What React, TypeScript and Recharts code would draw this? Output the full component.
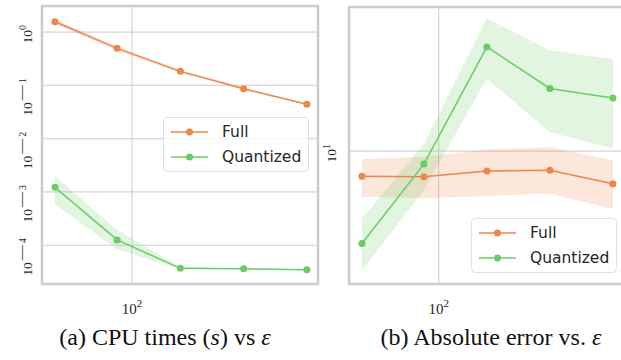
import React from 'react';
import {
  ComposedChart,
  Line,
  Area,
  XAxis,
  YAxis,
  CartesianGrid,
  ReferenceArea,
} from 'recharts';

// epsilon values (x, log scale)
const epsilons = [43, 85, 170, 340, 680];

// (a) CPU times
const cpuFull = [1.56, 0.494, 0.183, 0.0865, 0.044];
const cpuFullLo = [1.42, 0.45, 0.172, 0.082, 0.0425];
const cpuFullHi = [1.72, 0.54, 0.195, 0.091, 0.0458];
const cpuQuant = [1.22e-3, 1.26e-4, 3.69e-5, 3.63e-5, 3.47e-5];
const cpuQuantLo = [5.9e-4, 8.4e-5, 3.55e-5, 3.55e-5, 3.4e-5];
const cpuQuantHi = [2.0e-3, 1.93e-4, 3.85e-5, 3.72e-5, 3.55e-5];

// (b) absolute error
const errFull = [7.94, 7.89, 8.32, 8.39, 7.4];
const errFullLo = [6.56, 6.47, 6.61, 6.77, 5.86];
const errFullHi = [9.29, 9.49, 10.15, 10.35, 9.2];
const errQuant = [4.27, 8.87, 26.1, 17.8, 16.3];
const errQuantLo = [3.32, 6.98, 19.5, 11.9, 10.24];
const errQuantHi = [5.38, 10.7, 34.0, 25.3, 23.3];

const xTicks = [100];
const cpuTicks = [1e-4, 1e-3, 1e-2, 1e-1, 1];
const errTicks = [10];

const xDomain: [number, number] = [37.3, 768];
const cpuDomain: [number, number] = [1.875e-5, 3.08];
const errDomain: [number, number] = [2.94, 37.7];

const ORANGE = '#ee854a';
const GREEN = '#6acc64';
const SERIF = '"Liberation Serif", "DejaVu Serif", serif';
const SANS = '"DejaVu Sans", sans-serif';

const cpuData = epsilons.map((x, i) => ({
  x,
  full: cpuFull[i],
  fullBand: [cpuFullLo[i], cpuFullHi[i]],
  quant: cpuQuant[i],
  quantBand: [cpuQuantLo[i], cpuQuantHi[i]],
}));

const errData = epsilons.map((x, i) => ({
  x,
  full: errFull[i],
  fullBand: [errFullLo[i], errFullHi[i]],
  quant: errQuant[i],
  quantBand: [errQuantLo[i], errQuantHi[i]],
}));

// rotated 10^n label, its top end sits a little above the tick
const YTick = (props: any) => {
  const { y, payload, bx } = props;
  const exp = Math.round(Math.log10(payload.value));
  return (
    <text
      transform={`translate(${bx},${y - 7}) rotate(-90)`}
      textAnchor="end"
      fontFamily={SERIF}
      fontSize={13.5}
      fill="#262626"
    >
      10
      {exp < 0 ? (
        <>
          <tspan dy={-6} dx={2} fontSize={15}>
            {'\u2014'}
          </tspan>
          <tspan dx={2} fontSize={10}>
            {-exp}
          </tspan>
        </>
      ) : (
        <tspan dy={-6} fontSize={10}>
          {exp}
        </tspan>
      )}
    </text>
  );
};

const XTick = (props: any) => {
  const { x, payload } = props;
  const exp = Math.round(Math.log10(payload.value));
  return (
    <text x={x} y={314} textAnchor="middle" fontFamily={SERIF} fontSize={15} fill="#262626">
      10
      <tspan dy={-7} fontSize={11}>
        {exp}
      </tspan>
    </text>
  );
};

const LegendBox = ({ left, top }: { left: number; top: number }) => {
  const rows = [
    { name: 'Full', color: ORANGE },
    { name: 'Quantized', color: GREEN },
  ];
  return (
    <div
      style={{
        position: 'absolute',
        left,
        top,
        width: 146,
        height: 55,
        boxSizing: 'border-box',
        border: '1px solid #e2e2e2',
        borderRadius: 4,
        background: 'rgba(255,255,255,0.85)',
        fontFamily: SANS,
        fontSize: 15.5,
        color: '#262626',
      }}
    >
      {rows.map((r, i) => (
        <div
          key={r.name}
          style={{ position: 'absolute', left: 0, top: 4 + i * 25, height: 20, display: 'flex', alignItems: 'center' }}
        >
          <svg width={58} height={20} style={{ display: 'block' }}>
            <line x1={7} y1={10} x2={44} y2={10} stroke={r.color} strokeWidth={1.5} />
            <circle cx={25.5} cy={10} r={3.5} fill={r.color} />
          </svg>
          <span style={{ lineHeight: '20px' }}>{r.name}</span>
        </div>
      ))}
    </div>
  );
};

const Panel = ({ data, width, yWidth, marginTop, marginRight, yDomain, yTicks, tickX }: any) => (
  <ComposedChart
    width={width}
    height={320}
    data={data}
    margin={{ top: marginTop, right: marginRight, left: 0, bottom: 0 }}
  >
    <CartesianGrid stroke="#d4d4d4" strokeWidth={1.2} />
    <XAxis
      dataKey="x"
      type="number"
      scale="log"
      domain={xDomain}
      allowDataOverflow
      ticks={xTicks}
      height={36}
      axisLine={false}
      tickLine={false}
      tick={(p: any) => <XTick {...p} />}
    />
    <YAxis
      type="number"
      scale="log"
      domain={yDomain}
      allowDataOverflow
      ticks={yTicks}
      width={yWidth}
      axisLine={false}
      tickLine={false}
      tick={(p: any) => <YTick {...p} bx={tickX} />}
    />
    <Area
      type="linear"
      dataKey="fullBand"
      stroke="none"
      fill={ORANGE}
      fillOpacity={0.2}
      isAnimationActive={false}
      activeDot={false}
    />
    <Area
      type="linear"
      dataKey="quantBand"
      stroke="none"
      fill={GREEN}
      fillOpacity={0.2}
      isAnimationActive={false}
      activeDot={false}
    />
    <Line
      type="linear"
      dataKey="full"
      stroke={ORANGE}
      strokeWidth={1.5}
      dot={{ r: 3.5, fill: ORANGE, stroke: ORANGE, strokeWidth: 0 }}
      activeDot={false}
      isAnimationActive={false}
    />
    <Line
      type="linear"
      dataKey="quant"
      stroke={GREEN}
      strokeWidth={1.5}
      dot={{ r: 3.5, fill: GREEN, stroke: GREEN, strokeWidth: 0 }}
      activeDot={false}
      isAnimationActive={false}
    />
    <ReferenceArea
      x1={xDomain[0]}
      x2={xDomain[1]}
      y1={yDomain[0]}
      y2={yDomain[1]}
      fill="none"
      stroke="#cccccc"
      strokeWidth={2.5}
      ifOverflow="visible"
    />
  </ComposedChart>
);

const captionStyle: React.CSSProperties = {
  position: 'absolute',
  top: 324,
  textAlign: 'center',
  fontFamily: SERIF,
  fontSize: 24,
  color: '#111',
  whiteSpace: 'nowrap',
};

export default function App() {
  return (
    <div
      style={{
        position: 'absolute',
        left: 0,
        top: 0,
        width: 621,
        height: 360,
        overflow: 'hidden',
        background: '#fff',
      }}
    >
      <div style={{ position: 'absolute', left: 0, top: 0 }}>
        <Panel
          data={cpuData}
          width={320}
          yWidth={42}
          marginTop={6}
          marginRight={2}
          yDomain={cpuDomain}
          yTicks={cpuTicks}
          tickX={32}
        />
      </div>
      <div style={{ position: 'absolute', left: 320, top: 0 }}>
        <Panel
          data={errData}
          width={304}
          yWidth={29}
          marginTop={7}
          marginRight={0}
          yDomain={errDomain}
          yTicks={errTicks}
          tickX={16}
        />
      </div>
      <LegendBox left={163} top={117} />
      <LegendBox left={471} top={218} />
      <div style={{ ...captionStyle, left: 0, width: 330 }}>
        (a) CPU times (<i>s</i>) vs <i>ε</i>
      </div>
      <div style={{ ...captionStyle, left: 320, width: 342 }}>
        (b) Absolute error vs. <i>ε</i>
      </div>
    </div>
  );
}
